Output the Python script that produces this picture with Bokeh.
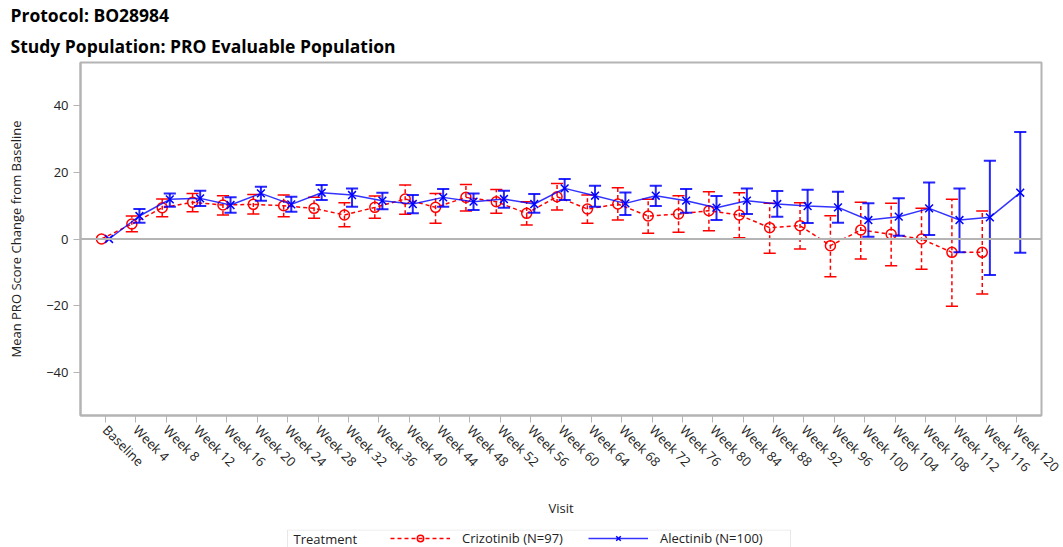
import math
from bokeh.plotting import figure
from bokeh.layouts import column
from bokeh.models import (FixedTicker, Legend, LegendItem, Span, Title, Label, BoxAnnotation)
from bokeh.embed import file_html
from bokeh.resources import INLINE

# ---- data ----
visits = ["Baseline"] + [f"Week {w}" for w in range(4, 121, 4)]

criz_mean = [0, 4.5, 9.4, 11.0, 10.2, 10.4, 10.0, 9.2, 7.2, 9.5, 12.0, 9.5, 12.5, 11.2, 7.7,
             12.7, 9.0, 10.5, 6.9, 7.5, 8.5, 7.2, 3.4, 4.0, -2.0, 2.7, 1.4, 0.0, -4.0, -4.0]
criz_upper = [0, 6.9, 12.0, 13.7, 13.0, 13.4, 13.2, 12.5, 10.9, 12.9, 16.2, 13.7, 16.4, 14.9, 11.2,
              16.7, 13.2, 15.4, 11.9, 13.0, 14.2, 13.9, 10.7, 10.9, 7.0, 11.0, 10.7, 9.2, 11.9, 8.4]
criz_lower = [0, 2.2, 6.7, 8.2, 7.2, 7.5, 6.7, 6.2, 3.7, 6.2, 7.4, 4.7, 8.4, 7.7, 4.2,
              8.7, 4.7, 5.7, 1.7, 2.0, 2.5, 0.4, -4.3, -3.0, -11.3, -6.0, -8.0, -9.1, -20.2, -16.5]

alec_mean = [0, 6.9, 11.9, 12.2, 10.2, 13.7, 10.4, 13.9, 13.2, 11.5, 10.5, 12.5, 11.2, 12.0, 10.5,
             15.2, 13.0, 10.7, 13.0, 11.5, 9.4, 11.5, 10.5, 9.9, 9.5, 5.7, 6.7, 9.2, 5.7, 6.5, 13.9]
alec_upper = [0, 9.0, 13.7, 14.5, 12.5, 15.7, 12.7, 16.2, 15.2, 13.9, 13.2, 15.0, 13.7, 14.5, 13.5,
              18.0, 16.0, 14.0, 16.0, 15.0, 12.9, 15.2, 14.4, 14.8, 14.2, 10.7, 12.2, 17.0, 15.2, 23.5, 32.1]
alec_lower = [0, 4.9, 9.7, 9.9, 7.9, 11.5, 8.2, 11.7, 9.7, 8.9, 7.7, 9.7, 8.7, 9.4, 7.9,
              11.7, 9.7, 7.2, 9.9, 7.9, 5.7, 7.5, 6.7, 4.8, 4.9, 0.7, 1.0, 1.2, -4.0, -10.8, -4.1]

y_ticks = [-40, -20, 0, 20, 40]

title_lines = ["Protocol: BO28984", "Study Population: PRO Evaluable Population"]
series_labels = ["Crizotinib (N=97)", "Alectinib (N=100)"]
legend_title = "Treatment"

FONT = "Open Sans"
RED = "#ff0000"
BLUE = "#0000ff"
GRAY = "#b4b4b4"
TXT = "#222222"

p = figure(width=1063, height=529, output_backend="svg", toolbar_location=None,
           x_range=(-0.82, len(visits) - 1 + 0.82), y_range=(-53, 53),
           min_border_left=80, min_border_right=22, min_border_top=0, min_border_bottom=114)
p.outline_line_color = GRAY
p.outline_line_width = 2
p.grid.visible = False
p.background_fill_color = "white"
p.border_fill_color = "white"

# axes
p.xaxis.ticker = FixedTicker(ticks=list(range(len(visits))))
p.xaxis.major_label_overrides = {i: v for i, v in enumerate(visits)}
p.xaxis.major_label_orientation = -math.pi / 4
p.yaxis.ticker = FixedTicker(ticks=y_ticks)
for ax in (p.xaxis[0], p.yaxis[0]):
    ax.axis_line_color = GRAY
    ax.axis_line_width = 2
    ax.major_tick_line_color = GRAY
    ax.major_tick_line_width = 1
    ax.major_tick_out = 7
    ax.major_tick_in = 0
    ax.minor_tick_line_color = None
    ax.major_label_text_font = FONT
    ax.major_label_text_font_size = "13px"
    ax.major_label_text_color = TXT
    ax.axis_label_text_font = FONT
    ax.axis_label_text_font_size = "13px"
    ax.axis_label_text_font_style = "normal"
    ax.axis_label_text_color = TXT
p.xaxis.axis_label = "Visit"
p.xaxis.axis_label_standoff = 14
p.yaxis.axis_label = "Mean PRO Score Change from Baseline"
p.yaxis.axis_label_standoff = 18
p.xaxis.major_label_standoff = 5

p.add_layout(Span(location=0, dimension="width", line_color=GRAY, line_width=2))

# crizotinib
off_c = -0.13
xc = [i + off_c for i in range(len(criz_mean))]
eb_c = [i for i in range(len(criz_mean)) if criz_upper[i] != criz_lower[i]]
p.segment(x0=[xc[i] for i in eb_c], x1=[xc[i] for i in eb_c],
          y0=[criz_lower[i] for i in eb_c], y1=[criz_upper[i] for i in eb_c],
          line_color=RED, line_width=1.5, line_dash="4 3")
for arr in (criz_upper, criz_lower):
    p.segment(x0=[xc[i] - 0.2 for i in eb_c], x1=[xc[i] + 0.2 for i in eb_c],
              y0=[arr[i] for i in eb_c], y1=[arr[i] for i in eb_c],
              line_color=RED, line_width=1.5)
p.line(xc, criz_mean, line_color=RED, line_width=1.5, line_dash="4 3")
p.scatter(xc, criz_mean, marker="circle", size=10, fill_color=None,
          line_color=RED, line_width=1.5)

# alectinib
off_a = 0.12
xa = [i + off_a for i in range(len(alec_mean))]
eb_a = [i for i in range(len(alec_mean)) if alec_upper[i] != alec_lower[i]]
p.segment(x0=[xa[i] for i in eb_a], x1=[xa[i] for i in eb_a],
          y0=[alec_lower[i] for i in eb_a], y1=[alec_upper[i] for i in eb_a],
          line_color=BLUE, line_width=2, line_alpha=0.85)
for arr in (alec_upper, alec_lower):
    p.segment(x0=[xa[i] - 0.2 for i in eb_a], x1=[xa[i] + 0.2 for i in eb_a],
              y0=[arr[i] for i in eb_a], y1=[arr[i] for i in eb_a],
              line_color=BLUE, line_width=2, line_alpha=0.85)
p.line(xa, alec_mean, line_color=BLUE, line_width=1.5, line_alpha=0.8)
p.scatter(xa, alec_mean, marker="x", size=11, line_color=BLUE, line_width=1.5)

# titles (added bottom-up: last added is outermost)
for txt, so in ((title_lines[1], 10), (title_lines[0], 0)):
    p.add_layout(Title(text=txt, align="left", offset=-70, text_font=FONT,
                       text_font_size="17.5px", text_font_style="bold",
                       text_color="#000000", standoff=so), "above")

# ---- legend strip ----
lg = figure(width=1063, height=20, output_backend="svg", toolbar_location=None,
            x_axis_type=None, y_axis_type=None, x_range=(0, 1), y_range=(0, 1),
            min_border_left=80, min_border_right=22, min_border_top=0, min_border_bottom=0)
lg.grid.visible = False
lg.outline_line_color = None
lg.background_fill_color = "white"
lg.border_fill_color = "white"
lg.add_layout(BoxAnnotation(left=287, right=790, top=0.5, bottom=40,
                            left_units="canvas", right_units="canvas",
                            top_units="canvas", bottom_units="canvas",
                            fill_alpha=0, line_color=GRAY, line_width=1))
# off-range placeholder renderers that only supply the legend glyph styles
lr1 = lg.line([-5, -4], [-5, -5], line_color=RED, line_width=1.5, line_dash="4 3")
sr1 = lg.scatter([-5], [-5], marker="circle", size=10, fill_color=None, line_color=RED, line_width=1.5)
lr2 = lg.line([-5, -4], [-5, -5], line_color=BLUE, line_width=1.5, line_alpha=0.8)
sr2 = lg.scatter([-5], [-5], marker="x", size=11, line_color=BLUE, line_width=1.5)
legend = Legend(items=[LegendItem(label=series_labels[0], renderers=[lr1, sr1]),
                       LegendItem(label=series_labels[1], renderers=[lr2, sr2])],
                orientation="horizontal", location=(310, 2))
legend.label_text_font = FONT
legend.label_text_font_size = "13px"
legend.label_text_color = TXT
legend.glyph_width = 60
legend.glyph_height = 16
legend.label_height = 16
legend.label_standoff = 12
legend.spacing = 25
legend.padding = 0
legend.margin = 0
legend.border_line_color = None
legend.background_fill_alpha = 0
lg.add_layout(legend, "center")
lg.add_layout(Label(x=213, y=11, x_units="screen", y_units="screen", text=legend_title,
                    text_font=FONT, text_font_size="13px", text_color=TXT,
                    text_baseline="middle"))

open("out.html", "w").write(file_html(column(p, lg, spacing=0), INLINE))
